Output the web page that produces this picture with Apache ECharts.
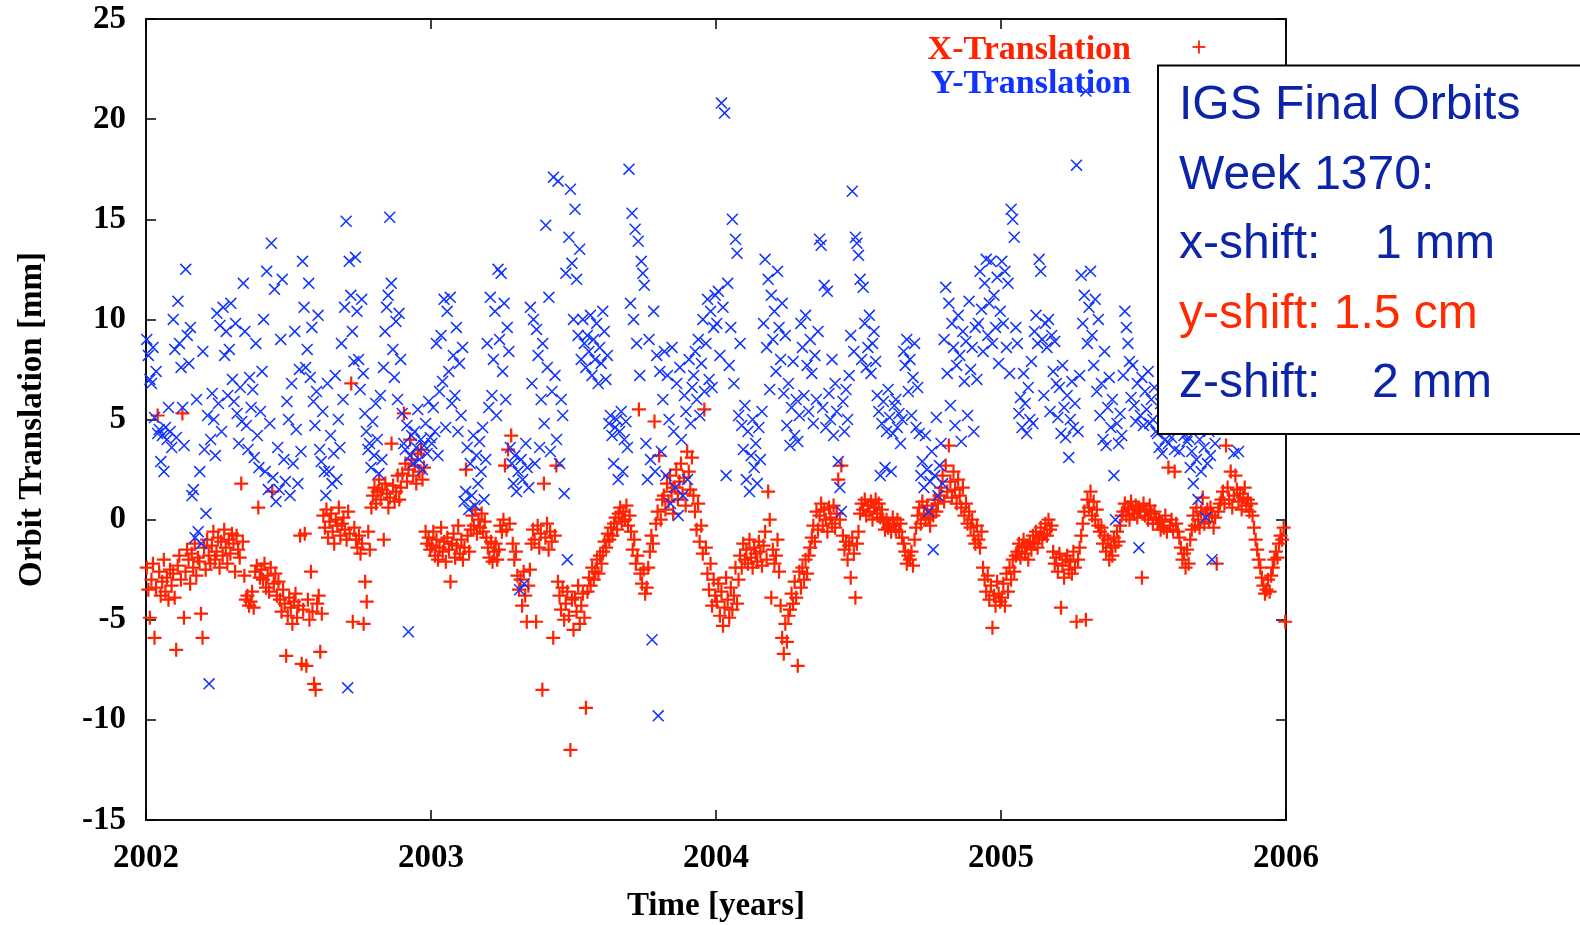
<!DOCTYPE html>
<html>
<head>
<meta charset="utf-8">
<title>Orbit Translation</title>
<script src="https://cdn.jsdelivr.net/npm/echarts@6/dist/echarts.min.js"></script>
<style>
  html, body { margin: 0; padding: 0; background: #fff; }
  #chart { width: 1580px; height: 925px; }
</style>
</head>
<body>
<div id="chart"></div>
<script>
// Daily-sampled orbit translations (mm), one array per year, evenly spread over the year.
const years = [2002, 2003, 2004, 2005];

const xTrans2002 = [
  -2.4, -3.5, -4.9, -3.0, -2.2, -5.9, -3.4, 5.2, -2.6, -3.8, -3.1, -2.0, -3.6, -2.9, -4.0, -2.5, -3.3, -2.7, -3.9,
  -6.5, -2.3, -1.8, -3.0, 5.3, -4.9, -2.6, -1.5, -2.0, -3.2, -1.7, -2.4, -1.2, -2.8, -1.9, -2.1, -4.7, -5.9, -1.4, -2.5, -1.0, -1.8, -2.2,
  -1.3, -0.6, -2.0, -1.6, -0.9, -2.4, -1.1, -1.8, -0.5, -1.4, -2.2, -1.0, -1.7, -0.7, -1.2, -2.6, -0.8, -1.5, -1.9, 1.8, -1.1, -2.8,
  -4.0, -3.8, -4.3, -4.1, -3.6, -4.4, -2.6, -2.3, 0.6, -2.9,
  -2.5, -3.0, -2.2, -3.4, -2.8, -3.6, -2.4, 1.4, -3.2, -2.7, -3.8, -3.1,
  -4.0, -4.6, -3.5, -4.2, -6.8, -4.8, -3.9, -4.4, -5.2, -4.1, -3.7, -4.9, -4.3, -0.8, -7.2, -4.5, -0.7, -7.3, -4.0, -5.0, -2.6, -4.6, -8.2, -8.5, -4.2, -3.8, -6.6, -4.7,
  0.2, -0.4, 0.5, -0.9, -0.1, 0.3, -0.6, -1.2, 0.0, -0.3, 0.6, -0.8, -0.2, 0.1, -0.5, -1.0, 0.4, -0.7, 6.8, -5.1, -0.4,
  -1.0, -1.4, -0.8, -1.7, -1.2, -5.2, -3.1, -4.1, -0.6, -1.5, 0.6,
  1.2, 1.6, 0.8, 1.4, 2.0, 1.0, 1.5, -1.0, 1.8, 1.3, 0.6, 1.1, 3.8, 1.7, 0.9, 1.4, 2.2, 1.0, 1.6,
  2.3, 5.3, 2.8, 1.9, 2.5, 4.0, 3.0, 2.2, 2.7, 1.8, 3.3, 2.4, 3.5, 2.0, 2.6,
  -0.6, -1.2, -0.9, -1.5
];
const xTrans2003 = [
  -1.3, -0.6, -1.8, -1.0, -2.0, -1.4, -0.4, -1.6, -1.1, -2.1, -0.9, -1.5, -3.1, -1.2, -0.7, -1.9, -1.3, -0.3, -1.7, -1.0, -2.0, -1.4, 2.5, -0.8, -1.6,
  -0.5, 0.2, -0.3, 0.5, -0.7, 0.0, -0.4, 0.3, -0.6, -0.1, -0.9,
  -1.4, -1.9, -1.1, -2.1, -1.6, -1.2, -2.0, -1.5,
  -0.3, -0.6, 0.0, 2.7, -0.5, 3.5, -0.2,
  4.2, -1.2, -2.0, -1.6, -2.8, -3.5,
  -3.0, -4.3, -2.6, -3.8, -5.1, -3.3, -2.5,
  -1.2, -0.5, -1.0, -5.1, -0.3, -1.4, -0.7, -8.5, 1.8, -0.9, -0.2, -1.5, -0.6, -1.1, -5.9, -0.8, 2.7,
  -3.1, -3.8, -4.5, -3.4, -5.0, -4.2, -3.6, -4.8, -11.5, -4.0, -5.5, -3.9, -4.6, -3.3, -5.2, -4.3, -3.7, -4.9, -9.4,
  -3.6, -2.9, -3.3, -2.4, -3.0, -2.6, -2.0, -2.7, -1.8, -2.2,
  -1.6, -1.1, -1.4, -0.7, -1.0, -0.4, -0.8, -0.2, 0.1, -0.5, 0.3, 0.6, -0.1, 0.4, 0.0, 0.7, -0.3, 0.2,
  -0.6, -1.5, -1.0, -2.2, -1.8, 5.5, -2.7, -3.2, -2.5, -3.7, -3.4,
  -2.4, -1.6, -0.8, -1.2, 4.9, -0.2, 0.4, 3.2, 0.0, 1.0,
  1.2, 0.5, 1.8, 0.9, 2.2, 1.4, 0.3, 1.6, 2.5, 1.0, 1.9, 2.8, 1.3, 2.1, 0.7, 3.4, 2.4, 1.5, 3.1,
  1.2, 0.4, -0.5, 0.8, -1.1, -0.3, -1.7, 5.5, -1.4,
  -2.7, -3.5, -2.2, -4.3, -3.0, -3.8
];
const xTrans2004 = [
  -4.1, -3.2, -4.8, -3.6, -5.3, -4.4, -2.9, -4.0, -4.9, -3.4, -4.5, -3.8, -2.4, -4.2, -3.0,
  -1.8, -2.4, -1.2, -2.0, -1.5, -2.2, -1.0, -1.9, -2.4, -1.4, -1.7, -2.1, -1.1, -1.6, -2.3, -1.3, -0.6, -2.0, 1.4, 0.0, -3.9, -1.5, -2.2, -1.8, -1.0, -2.6,
  -4.3, -5.9, -6.7, -5.2, -6.1, -4.8,
  -4.5, -3.7, -4.2, -3.1, -3.9, -7.3, -2.6, -3.4, -2.4, -3.0, -2.0, -2.7, -1.8,
  -1.4, -0.9, -0.3, -1.1, 0.4, -0.5,
  0.2, 0.8, -0.3, 0.5, 0.0, -0.6, 0.6, 0.1, -0.2, 0.7, -0.4, 0.3, 2.0, 0.0, 2.7,
  -0.8, -1.5, -1.1, -2.0, -1.3, -2.9, -0.9, -1.7, -3.9, -1.2, -0.6,
  0.3, 0.8, 0.5, 1.0, 0.2, 0.7, 0.4, 0.9, 0.0, 0.6, 1.0, 0.3, 0.8, 0.1, 0.5,
  -0.1, -0.5, 0.0, -0.4, -0.2, -0.6, 0.1, -0.3, -0.5, 0.0, -0.6, -0.2, -0.9, -1.2, -1.6,
  -2.2, -1.8, -2.0, -1.6, -2.3, -1.0,
  -0.4, 0.2, 0.6, -0.2, 0.9, 0.3, 0.0, 0.7, 0.1, -0.3, 0.5, 0.2, 1.0, 0.4, 0.8, 1.2,
  1.6, 2.2, 0.9, 2.7, 1.4, 3.7, 1.9, 1.1, 2.4, 1.5, 0.8, 2.0,
  1.2, 0.6, 1.6, 0.2, 0.8, -0.2, 0.4, -0.4, 0.0, -0.8, -1.2, -0.3, -1.0, -1.4, -0.6,
  -2.4, -3.0, -3.6, -2.8, -4.0, -3.3, -5.4, -3.8, -4.3, -3.1, -3.7, -4.1
];
const xTrans2005 = [
  -3.9, -3.2, -4.3, -2.7, -3.6, -2.4, -3.0, -2.0, -2.6, -1.8,
  -1.6, -1.2, -1.9, -1.4, -1.0, -1.7, -1.3, -2.0, -1.1, -1.5, -0.8, -1.2, -0.6, -1.4, -0.9, -0.4, -1.0, -0.7, -0.2, -0.8, 0.0, -0.5, -0.3,
  -1.6, -2.2, -1.9, -2.6, -1.7, -4.4, -2.3, -2.9, -2.0, -1.8, -2.5, -2.1, -2.7, -1.6, -2.4, -5.1, -2.0, -1.4,
  -0.8, -0.2, 0.4, -5.0, 1.0, 0.6, 1.4, 0.2, 0.9, 0.0, 0.5, -0.3, -0.6,
  -0.4, -1.2, -0.8, -1.6, -1.0, -2.0, -1.4, -1.8, -0.9, -1.3, -0.6, -1.1, -0.3, 0.2,
  0.4, 0.8, 0.2, 0.6, 0.0, 0.9, 0.5, 0.3, 0.7, 0.1, 0.6, 0.4, -2.9, 0.8, 0.2, 0.5, 0.0, 0.7, 0.3, -0.2, 0.4, 0.1,
  -0.2, 0.0, -0.5, -0.1, -0.4, 0.2, -0.6, 2.6, -0.3, 0.0, -0.5, 2.4, -0.2, -0.6, -0.9,
  -1.4, -2.0, -1.7, -2.4, -1.5, -2.2, -1.0, -0.5,
  0.2, -0.3, 0.6, 0.0, -0.4, 0.4, 1.1, -0.2, 0.3, 0.5, -0.1, 0.6, 0.2, -0.4, 0.1, -2.2, 0.4, 0.8, 1.0,
  1.4, 0.8, 3.7, 1.6, 1.0, 2.4, 0.6, 1.2, 2.2, 1.5, 0.9, 1.3, 0.5, 1.1, 1.6, 0.7, 1.0, 0.4, 0.8, 0.2,
  -0.4, -1.0, -1.5, -2.0, -2.4, -2.9, -3.3, -3.7, -3.5, -3.0, -3.6,
  -2.8, -2.4, -2.0, -1.6, -1.9, -1.2, -0.8, -1.0, -0.4, -5.1
];

const yTrans2002 = [
  9.0, 8.2, 7.0, 6.8, 8.6, 5.1, 7.4,
  4.3, 4.5, 2.9, 4.2, 2.4, 4.6, 4.0, 5.6, 4.4, 3.6,
  10.0, 8.5, 4.1, 10.9, 8.8, 7.6, 5.6, 3.7, 12.5, 9.2,
  7.8, 9.6, 1.2, 1.5, -0.9, 6.0, -0.6, 2.4, -1.2, 8.4, 3.5, 0.3, 5.2,
  -8.2, 4.0, 6.3, 5.0, 3.2, 10.3, 5.8, 9.7, 4.4, 10.6,
  8.2, 9.4, 6.2, 8.5, 10.8, 7.0, 5.9, 9.8, 5.3, 3.8, 6.6, 4.9,
  11.8, 9.4, 4.7, 3.5, 7.1, 5.6, 6.5, 3.1, 8.8, 4.2, 2.6, 5.4, 7.4,
  10.0, 2.4, 12.4, 1.5, 4.8, 13.8, 2.1, 11.5, 0.9, 3.6, 1.5, 9.0, 12.0, 3.0, 1.9,
  5.9, 5.0, 1.2, 6.8, 2.8, 9.4, 4.5, 1.8, 7.5, 3.4,
  12.9, 10.6, 7.6, 8.5, 11.8, 7.1, 9.6, 5.9, 4.7, 6.4, 10.2, 3.5,
  2.9, 5.4, 2.4, 1.2, 6.8, 2.4, 4.2, 1.8, 3.3, 7.2, 2.0, 5.0, 3.6,
  8.8, 6.0, 10.6, 14.9, -8.4, 12.9, 11.2, 9.4, 7.9, 13.1, 10.4, 8.0, 6.5, 11.0, 7.3,
  5.3, 4.4, 3.5, 3.8, 2.6, 4.9, 3.2, 5.8, 4.0, 2.3, 6.2, 3.0,
  7.6, 9.4, 10.6, 11.2, 15.1, 11.8, 8.5, 7.1, 9.9, 6.0, 10.3, 8.0, 5.3,
  3.8, 3.5, 4.7, -5.6, 3.2, 4.2, 2.8, 4.4, 3.6, 5.5, 3.0, 4.0, 2.5, 3.7, 4.8, 3.3, 5.9, 4.1
];
const yTrans2003 = [
  3.8, 5.6, 4.4, 8.8, 3.2, 6.4,
  9.2, 6.9, 11.0, 4.6, 10.4, 7.4, 11.1, 5.8, 8.2, 6.2, 9.6, 4.4, 7.8, 5.2, 8.6,
  0.9, 1.4, 3.6, 0.5, 2.8, 1.2, 4.2, 0.7, 3.2, 1.8, 3.9, 2.4, 4.6, 1.0, 3.0,
  8.8, 5.6, 11.1, 6.2, 8.0, 10.4, 5.2, 12.5, 9.0, 12.3, 7.4, 10.8, 6.0, 9.6, 8.4,
  3.6, 2.8, 1.8, 3.2, 1.4, 2.4, -3.5, 3.0, 2.0, -3.2, 3.8, 2.6, 1.6,
  10.6, 6.8, 10.0, 2.8, 9.5, 8.2, 3.6, 6.0, 8.8, 4.8,
  14.7, 7.6, 11.1, 3.4, 6.4, 17.1, 7.2, 4.0, 16.9, 2.8, 6.0, 5.2, 1.3,
  12.3, -2.0, 14.1, 16.5, 12.8, 10.0, 15.5, 12.0, 9.2, 13.5, 8.0,
  10.0, 8.8, 7.6, 9.2, 8.4, 10.2, 7.2, 9.0, 8.0, 9.8, 6.8, 8.6, 7.8, 10.4, 9.4, 7.0, 8.2,
  4.8, 5.2, 4.2, 2.8, 4.6, 5.0, 2.0, 4.4, 5.4, 2.4, 4.0, 4.9, 3.6,
  17.5, 10.8, 15.3, 10.0, 14.5, 8.8, 13.9, 7.2, 12.9, 12.3, 11.7,
  3.8, 2.0, 9.0, 3.0, -6.0, 10.4, 2.4, 8.2, -9.8, 7.4, 3.4,
  6.0, 8.4, 2.2, 7.2, 5.0, 0.8, 8.6, 4.4, 1.6, 6.8, 0.2, 7.6, 4.0, 1.2, 6.2, 5.4, 2.0, 8.0, 4.8, 6.6,
  7.2, 8.4, 6.0, 9.0, 5.2, 7.8, 10.0, 6.4, 8.8, 11.0, 7.0, 10.4, 6.6, 9.6, 11.2
];
const yTrans2004 = [
  9.8, 11.4, 8.2, 20.8, 10.6, 20.3, 2.2, 11.8, 7.7,
  9.6, 15.0, 6.8, 14.0, 13.3, 5.2, 8.8, 4.7,
  3.5, 5.7, 2.0, 4.4, 1.4, 3.2, 5.0, 2.6, 3.8, 1.8, 4.6, 3.0, 5.4,
  9.8, 13.0, 8.6, 12.0, 6.5, 11.2, 9.0, 10.4, 7.4, 12.4, 9.6, 8.0, 10.8, 6.3, 9.2,
  4.7, 6.8, 3.7, 5.6, 7.9, 4.2, 6.0, 3.9, 5.2,
  9.8, 8.6, 6.2, 10.2, 7.7, 5.4, 9.0, 7.3, 4.8, 8.2, 6.0, 9.4,
  14.0, 13.7, 5.6, 11.7, 4.6, 11.4, 6.3, 5.0, 8.0, 4.2, 6.8, 5.4,
  2.9, 1.6, 0.4, 5.9, 4.4, 6.5, 5.0, 7.2,
  9.2, 16.4, 8.4, 14.1, 13.8, 13.2, 12.0, 8.0, 11.6, 9.8, 7.6, 8.6, 10.2, 7.3, 8.8, 9.4, 7.9,
  6.2, 5.4, 2.2, 4.8, 5.9, 2.6, 4.4, 6.5, 5.1, 2.4, 4.3, 5.7, 6.0, 4.6, 5.3, 3.8, 5.0,
  8.4, 7.7, 9.0, 6.4, 8.0, 5.2, 7.1, 8.8, 4.6, 6.6, 4.3,
  2.2, 2.9, 1.6, 4.2, 2.5, 0.4, 1.9, 3.4, -1.5, 2.2, 5.1, 1.2, 2.7, 3.8, 1.8,
  9.0, 11.6, 7.3, 10.8, 5.7, 9.8, 8.6, 4.7, 7.7, 10.2, 8.2, 3.9, 9.4, 6.9, 8.9, 5.2, 10.9, 7.5, 8.6, 4.4, 9.6, 7.0,
  9.8, 12.4, 10.5, 8.4, 11.8, 13.0, 9.2, 10.8, 12.9, 8.8, 11.2, 9.6, 12.1, 7.8, 10.4
];
const yTrans2005 = [
  12.9, 9.8, 12.4, 8.6, 11.8, 7.3, 15.5, 15.0, 14.1, 9.6,
  8.8, 5.3, 6.1, 4.6, 7.3, 5.8, 4.3, 6.6, 5.0, 7.9, 4.8,
  9.4, 10.2, 8.8, 13.0, 12.4, 9.0, 6.2, 9.8, 8.6, 10.0, 5.4, 9.2, 7.4, 8.9, 6.8,
  5.1, 6.6, 4.3, 7.7, 5.6, 4.1, 6.2, 3.1, 5.0, 6.9, 4.6, 5.8, 17.7, 4.4, 7.2,
  12.2, 9.8, 11.2, 21.4, 8.8, 10.6, 12.4, 9.2, 7.7, 11.0, 6.4, 10.0, 5.2,
  6.8, 4.0, 8.4, 3.7, 5.6, 7.1, 4.6, 6.0, 2.2, 0.0,
  4.8, 3.8, 5.3, 4.2, 7.2, 10.4, 9.6, 8.8, 7.9,
  6.1, 7.7, 5.7, 4.9, 6.8, -1.4, 5.2, 7.1, 4.7, 6.4, 5.5, 7.4, 4.8, 6.0, 5.0, 6.6, 4.4,
  4.3, 3.6, 5.8, 3.3, 6.9, 4.0, 7.5, 3.8, 5.2, 4.1, 8.2, 3.5, 6.4, 4.6, 3.4, 7.0, 5.4, 4.2, 6.2, 3.9,
  4.1, 2.6, 3.4, 1.8, 5.6, 3.0, 1.0, 4.0, 2.4, 6.8, 3.6, 0.1, 2.8, 4.4, 3.2, -2.0, 5.9, 3.8, 7.2, 4.9,
  6.4, 8.0, 5.3, 9.1, 6.9, 5.0, 7.6, 4.7, 8.6, 3.3, 6.2, 5.6, 3.4, 7.8, 9.4, 6.0, 5.2, 8.3, 6.7, 7.3, 5.5,
  9.8, 6.3, 7.9, 5.1, 8.7, 6.6, 10.2, 7.0, 5.8, 8.1, 6.5, 9.3, 7.4, 5.7, 8.9, 6.1, 7.7, 9.6, 6.8, 5.4, 8.4, 7.1
];

const xTransByYear = [xTrans2002, xTrans2003, xTrans2004, xTrans2005];
const yTransByYear = [yTrans2002, yTrans2003, yTrans2004, yTrans2005];

// Axis ticks
const yearTicks = [2002, 2003, 2004, 2005, 2006];
const mmTicks = [-15, -10, -5, 0, 5, 10, 15, 20, 25];

const boxLines = [
  { text: 'IGS Final Orbits', color: '#0c25a8' },
  { text: 'Week 1370:', color: '#0c25a8' },
  { text: 'x-shift:', value: '1 mm', color: '#0c25a8' },
  { text: 'y-shift: 1.5 cm', color: '#ff2a00' },
  { text: 'z-shift:', value: '2 mm', color: '#0c25a8' }
];

// Spread each year's samples evenly across that year (decimal years on the x axis)
function toPoints(byYear) {
  const pts = [];
  byYear.forEach((arr, i) => {
    const y0 = years[i];
    arr.forEach((v, k) => pts.push([y0 + (k + 0.5) / arr.length, v]));
  });
  return pts;
}

const RED = '#ff2200';
const BLUE = '#1133ff';
const SERIF = "'Liberation Serif', 'Times New Roman', serif";
const SANS = "'Liberation Sans', Arial, Helvetica, sans-serif";

// Gnuplot-style point glyphs as filled outlines
const PLUS = 'path://M0,42H100V58H0Z M42,0H58V100H42Z';
const CROSS = 'path://M0,9L9,0L100,91L91,100Z M91,0L100,9L9,100L0,91Z';

const tickLabel = { fontFamily: SERIF, fontWeight: 'bold', fontSize: 33, color: '#000' };
const axisLine = { show: true, onZero: false, lineStyle: { color: '#000', width: 1.5 } };
const axisTick = { show: true, inside: true, length: 10, lineStyle: { color: '#000', width: 1.5 } };

const xBase = { type: 'value', min: yearTicks[0], max: yearTicks[yearTicks.length - 1], interval: 1,
  axisLine, axisTick, splitLine: { show: false } };
const yBase = { type: 'value', min: mmTicks[0], max: mmTicks[mmTicks.length - 1], interval: 5,
  axisLine, axisTick, splitLine: { show: false } };

const graphics = [
  // key
  { type: 'text', style: { text: 'X-Translation', x: 1131, y: 50, align: 'right', verticalAlign: 'middle',
      fill: RED, font: 'bold 34px ' + SERIF } },
  { type: 'text', style: { text: 'Y-Translation', x: 1131, y: 84, align: 'right', verticalAlign: 'middle',
      fill: BLUE, font: 'bold 34px ' + SERIF } },
  { type: 'line', shape: { x1: 1192.5, y1: 47, x2: 1205.5, y2: 47 }, style: { stroke: RED, lineWidth: 1.8 } },
  { type: 'line', shape: { x1: 1199, y1: 40.5, x2: 1199, y2: 53.5 }, style: { stroke: RED, lineWidth: 1.8 } },
  // annotation box
  { type: 'rect', shape: { x: 1158, y: 65.5, width: 460, height: 368.5 },
    style: { fill: '#fff', stroke: '#000', lineWidth: 2 } }
];
const lineY = [106, 176, 245, 315, 384];
boxLines.forEach((ln, i) => {
  graphics.push({ type: 'text', style: { text: ln.text, x: 1179, y: lineY[i], align: 'left', verticalAlign: 'middle',
    fill: ln.color, font: '48px ' + SANS } });
  if (ln.value) {
    graphics.push({ type: 'text', style: { text: ln.value, x: i === 2 ? 1375 : 1372, y: lineY[i], align: 'left',
      verticalAlign: 'middle', fill: ln.color, font: '48px ' + SANS } });
  }
});

const chart = echarts.init(document.getElementById('chart'), null, { renderer: 'canvas' });
chart.setOption({
  animation: false,
  backgroundColor: '#fff',
  grid: { left: 146, right: 294, top: 19, bottom: 105, containLabel: false, outerBoundsMode: 'none',
    show: true, borderColor: '#000', borderWidth: 1.5, backgroundColor: '#fff' },
  xAxis: [
    Object.assign({}, xBase, {
      position: 'bottom',
      axisLabel: Object.assign({ margin: 22, showMinLabel: true, showMaxLabel: true, formatter: v => String(v) }, tickLabel),
      name: 'Time [years]', nameLocation: 'middle', nameGap: 70,
      nameTextStyle: { fontFamily: SERIF, fontWeight: 'bold', fontSize: 33, color: '#000' }
    }),
    Object.assign({}, xBase, { position: 'top', axisLabel: { show: false } })
  ],
  yAxis: [
    Object.assign({}, yBase, {
      position: 'left',
      axisLabel: Object.assign({ margin: 20, showMinLabel: true, showMaxLabel: true }, tickLabel),
      name: 'Orbit Translation [mm]', nameLocation: 'middle', nameGap: 97, nameRotate: 90,
      nameTextStyle: { fontFamily: SERIF, fontWeight: 'bold', fontSize: 33, color: '#000' }
    }),
    Object.assign({}, yBase, { position: 'right', axisLabel: { show: false } })
  ],
  series: [
    {
      name: 'X-Translation', type: 'scatter', xAxisIndex: 0, yAxisIndex: 0,
      symbol: PLUS, symbolSize: 14, silent: true, large: false,
      itemStyle: { color: RED, opacity: 1 },
      data: toPoints(xTransByYear)
    },
    {
      name: 'Y-Translation', type: 'scatter', xAxisIndex: 0, yAxisIndex: 0,
      symbol: CROSS, symbolSize: 12, silent: true, large: false,
      itemStyle: { color: BLUE, opacity: 1 },
      data: toPoints(yTransByYear)
    }
  ],
  graphic: { elements: graphics.map(g => Object.assign({ z: 100 }, g)) }
});
</script>
</body>
</html>
